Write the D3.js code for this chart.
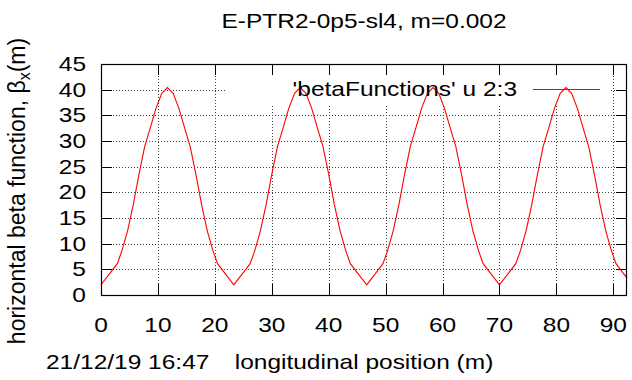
<!DOCTYPE html>
<html>
<head>
<meta charset="utf-8">
<script src="https://cdn.jsdelivr.net/npm/d3@7/dist/d3.min.js"></script>
<style>
  body { margin: 0; background: #fff; }
  svg { display: block; font-family: "Liberation Sans", Arial, sans-serif; }
</style>
</head>
<body>
<svg id="chart" width="632" height="380"></svg>
<script>
// longitudinal position s (m) and horizontal beta function (m)
var sPos = [
  0.0, 2.87, 3.67, 4.67, 5.67, 6.67, 7.67, 8.67, 9.67, 10.67, 11.67, 12.67, 13.67, 14.67, 15.67, 16.67, 17.67, 18.67, 19.67, 20.47,
  23.33, 26.2, 27.0, 28.0, 29.0, 30.0, 31.0, 32.0, 33.0, 34.0, 35.0, 36.0, 37.0, 38.0, 39.0, 40.0, 41.0, 42.0, 43.0, 43.8,
  46.67, 49.53, 50.33, 51.33, 52.33, 53.33, 54.33, 55.33, 56.33, 57.33, 58.33, 59.33, 60.33, 61.33, 62.33, 63.33, 64.33, 65.33, 66.33, 67.13,
  70.0, 72.87, 73.67, 74.67, 75.67, 76.67, 77.67, 78.67, 79.67, 80.67, 81.67, 82.67, 83.67, 84.67, 85.67, 86.67, 87.67, 88.67, 89.67, 90.47,
  92.4
];
var betaX = [
  2.0, 6.1, 8.6, 12.5, 17.6, 23.5, 28.9, 32.6, 36.4, 39.3, 40.4, 39.3, 36.4, 32.6, 28.9, 23.5, 17.6, 12.5, 8.6, 6.1,
  2.0, 6.1, 8.6, 12.5, 17.6, 23.5, 28.9, 32.6, 36.4, 39.3, 40.4, 39.3, 36.4, 32.6, 28.9, 23.5, 17.6, 12.5, 8.6, 6.1,
  2.0, 6.1, 8.6, 12.5, 17.6, 23.5, 28.9, 32.6, 36.4, 39.3, 40.4, 39.3, 36.4, 32.6, 28.9, 23.5, 17.6, 12.5, 8.6, 6.1,
  2.0, 6.1, 8.6, 12.5, 17.6, 23.5, 28.9, 32.6, 36.4, 39.3, 40.4, 39.3, 36.4, 32.6, 28.9, 23.5, 17.6, 12.5, 8.6, 6.1,
  3.3
];
var xTicks = [0, 10, 20, 30, 40, 50, 60, 70, 80, 90];
var yTicks = [0, 5, 10, 15, 20, 25, 30, 35, 40, 45];
var xDomain = [0, 92.4];
var yDomain = [0, 45];

var titleText = "E-PTR2-0p5-sl4, m=0.002";
var xLabelText = "longitudinal position (m)";
var stampText = "21/12/19 16:47";
var legendText = "'betaFunctions' u 2:3";

var L = 101, R = 627, T = 64, B = 295;
var FS = 24.5, SQ = 0.79;   // text looks squashed vertically in the original png
var svg = d3.select("#chart");

var x = d3.scaleLinear().domain(xDomain).range([L, R]);
var y = d3.scaleLinear().domain(yDomain).range([B, T]);

function label(g, px, py, str, anchor) {
  return g.append("text")
    .attr("transform", "translate(" + px + "," + py + ") scale(1," + SQ + ")")
    .attr("text-anchor", anchor || "start")
    .attr("font-size", FS)
    .text(str);
}

// grid
var grid = svg.append("g").attr("stroke", "#000").attr("stroke-width", 1)
  .attr("stroke-dasharray", "1,2").attr("opacity", 0.75);
grid.selectAll("line.gx").data(xTicks.slice(1)).enter().append("line")
  .attr("x1", function(d) { return Math.round(x(d)) + 0.5; })
  .attr("x2", function(d) { return Math.round(x(d)) + 0.5; })
  .attr("y1", T).attr("y2", B);
grid.selectAll("line.gy").data(yTicks.slice(1, -1)).enter().append("line")
  .attr("y1", function(d) { return Math.round(y(d)) + 0.5; })
  .attr("y2", function(d) { return Math.round(y(d)) + 0.5; })
  .attr("x1", L).attr("x2", R);

// opaque key box
svg.append("rect").attr("x", 225).attr("y", 73).attr("width", 386).attr("height", 32).attr("fill", "#fff");

// ticks (inward, mirrored)
var tl = 11;
var ticks = svg.append("g").attr("stroke", "#000").attr("stroke-width", 1);
xTicks.forEach(function(d) {
  var px = Math.round(x(d)) + 0.5;
  ticks.append("line").attr("x1", px).attr("x2", px).attr("y1", B).attr("y2", B - tl);
  ticks.append("line").attr("x1", px).attr("x2", px).attr("y1", T).attr("y2", T + tl);
});
yTicks.forEach(function(d) {
  var py = Math.round(y(d)) + 0.5;
  ticks.append("line").attr("y1", py).attr("y2", py).attr("x1", L).attr("x2", L + tl);
  ticks.append("line").attr("y1", py).attr("y2", py).attr("x1", R).attr("x2", R - tl);
});

// curve
var line = d3.line()
  .x(function(d, i) { return x(sPos[i]); })
  .y(function(d) { return y(d); });
svg.append("path").datum(betaX)
  .attr("d", line)
  .attr("fill", "none").attr("stroke", "#ff0000").attr("stroke-width", 1.1);

// border
svg.append("rect").attr("x", L + 0.5).attr("y", T + 0.5)
  .attr("width", R - L - 1).attr("height", B - T)
  .attr("fill", "none").attr("stroke", "#000").attr("stroke-width", 1.2);

// tick labels
var xl = svg.append("g");
xTicks.forEach(function(d) { label(xl, x(d), 332, d, "middle"); });
var yg = svg.append("g");
yTicks.forEach(function(d) { label(yg, 86, y(d) + 7, d, "end"); });

// title and labels
label(svg, 364, 28, titleText, "middle");
label(svg, 364, 369, xLabelText, "middle");
label(svg, 46, 369, stampText, "start");

var yl = svg.append("text").attr("transform", "translate(25,191) rotate(-90)")
  .attr("text-anchor", "middle").attr("font-size", 23);
yl.append("tspan").text("horizontal beta function, \u03b2");
yl.append("tspan").attr("font-size", 16).attr("dy", 5).text("x");
yl.append("tspan").attr("dy", -5).text("(m)");

// legend
label(svg, 517, 96, legendText, "end");
svg.append("line").attr("x1", 533).attr("x2", 600).attr("y1", 89.5).attr("y2", 89.5)
  .attr("stroke", "#ff0000").attr("stroke-width", 1.1);
</script>
</body>
</html>
